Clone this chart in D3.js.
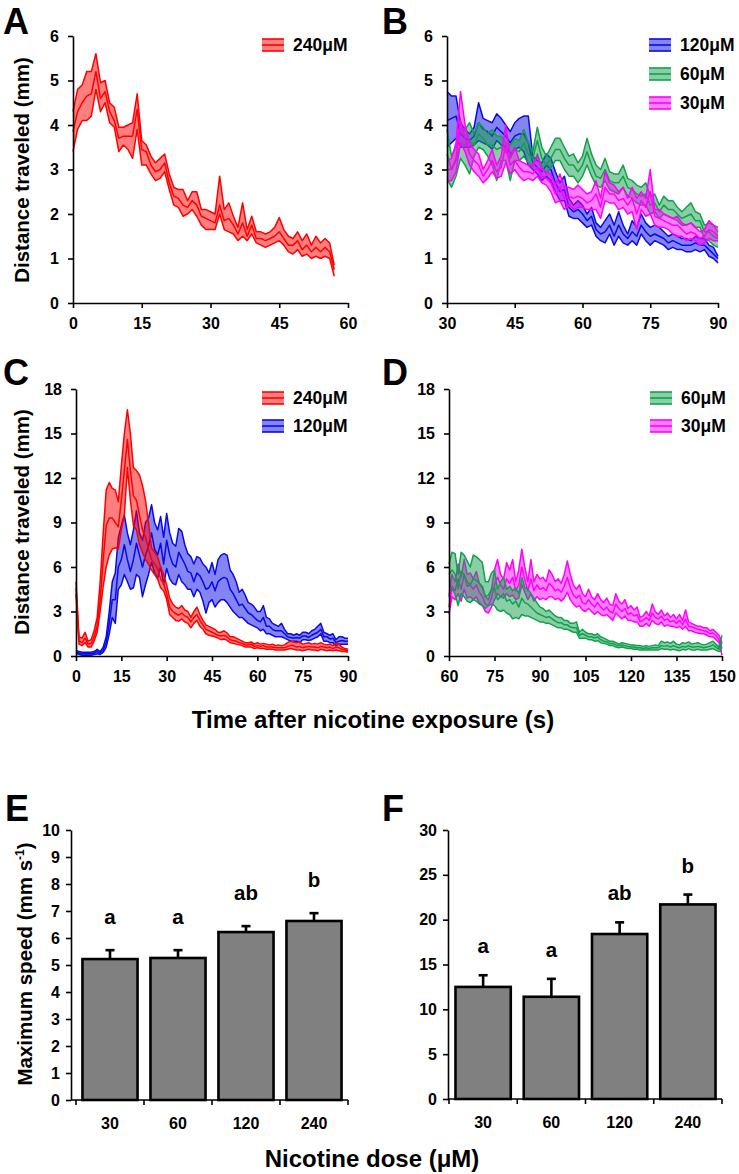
<!DOCTYPE html>
<html><head><meta charset="utf-8">
<script src="https://cdn.jsdelivr.net/npm/d3@7"></script>
<style>body{margin:0;background:#fff}svg{display:block}</style>
</head><body>
<script>
// ---------------- DATA ----------------
// Panel A: 240 µM, t = 0..57 s (1 s steps)
const aStart = 0;
const a240Hi   = [4.3,4.8,4.9,5.2,5.2,5.6,4.95,5.0,4.5,4.4,3.95,3.95,4.0,4.05,4.7,3.65,3.55,3.3,3.15,3.25,3.35,2.9,2.6,2.55,2.55,2.3,2.5,2.5,2.1,2.1,2.05,2.0,2.85,2.1,2.25,1.95,1.7,2.25,1.65,1.95,1.6,1.6,1.55,1.6,1.7,1.92,1.65,1.5,1.45,1.6,1.4,1.55,1.3,1.5,1.35,1.45,1.35,0.85];
const a240Mean = [3.85,4.3,4.5,4.65,4.7,5.2,4.6,4.75,4.3,4.1,3.7,3.75,3.75,3.75,4.35,3.45,3.4,3.1,2.95,3.0,3.15,2.7,2.4,2.35,2.2,2.15,2.3,2.2,1.95,1.9,1.85,1.8,2.2,1.85,1.9,1.75,1.55,1.8,1.5,1.75,1.45,1.45,1.4,1.45,1.5,1.6,1.45,1.3,1.3,1.4,1.2,1.3,1.15,1.25,1.15,1.25,1.15,0.75];
const a240Lo   = [3.4,3.9,4.1,4.1,4.2,4.8,4.3,4.5,4.05,3.95,3.4,3.55,3.45,3.25,3.9,3.1,3.1,2.9,2.75,2.8,2.95,2.55,2.2,2.15,1.95,2.0,2.1,1.95,1.75,1.65,1.65,1.65,2.0,1.65,1.6,1.55,1.4,1.5,1.4,1.55,1.35,1.3,1.25,1.3,1.35,1.4,1.3,1.15,1.1,1.2,1.05,1.1,1.0,1.05,1.0,1.05,1.0,0.6];

// Panel B: t = 30..90 s
const bStart = 30;
const b120Hi   = [4.75,4.65,4.65,4.05,3.9,3.8,3.95,4.5,4.15,4.1, 4.05,4.25,4.15,4.0,3.85,4.05,4.15,4.2,4.2,3.3, 3.2,3.15,3.35,3.25,2.95,2.7,2.85,2.35,2.2,2.3, 2.2,2.0,2.15,1.8,1.7,1.85,2.0,1.75,2.05,1.75, 1.55,1.85,1.7,2.0,1.8,1.7,1.75,1.7,1.6,1.5, 1.55,1.5,1.45,1.45,1.4,1.5,1.45,1.45,1.3,1.25,1.05];
const b120Mean = [4.1,4.15,4.2,3.8,3.7,3.65,3.75,4.05,3.9,3.85, 3.75,3.95,3.85,3.75,3.6,3.75,3.8,3.8,3.6,3.15, 3.05,2.95,3.1,3.0,2.7,2.5,2.55,2.15,2.05,2.1, 2.0,1.85,1.95,1.65,1.55,1.6,1.75,1.5,1.75,1.55, 1.45,1.6,1.5,1.75,1.6,1.5,1.55,1.5,1.45,1.35, 1.4,1.35,1.3,1.3,1.3,1.35,1.3,1.3,1.2,1.1,1.0];
const b120Lo   = [3.5,3.6,3.7,3.5,3.5,3.5,3.55,3.65,3.6,3.55, 3.45,3.65,3.55,3.5,3.35,3.45,3.5,3.4,3.1,3.0, 2.9,2.75,2.85,2.75,2.5,2.3,2.3,1.95,1.9,1.9, 1.8,1.7,1.75,1.5,1.4,1.35,1.55,1.3,1.5,1.35, 1.3,1.4,1.3,1.55,1.4,1.3,1.4,1.35,1.3,1.2, 1.25,1.2,1.2,1.15,1.15,1.2,1.15,1.2,1.05,1.0,0.9];
const b60Hi    = [3.9,3.3,3.5,3.95,3.9,4.05,3.8,4.05,3.95,3.8, 3.9,3.75,3.75,3.6,3.55,3.7,3.65,3.9,3.6,3.4, 3.95,3.5,3.3,3.5,3.7,3.7,3.5,3.3,3.35,3.15, 3.3,3.7,3.35,3.1,3.0,3.25,2.95,2.9,2.9,3.1, 2.8,2.75,2.65,2.6,2.7,2.4,2.45,2.2,2.4,2.3, 2.3,2.15,2.05,2.15,2.25,2.05,2.0,1.75,1.8,1.75,1.6];
const b60Mean  = [3.35,3.0,3.2,3.6,3.55,3.65,3.55,3.8,3.7,3.55, 3.55,3.45,3.5,3.4,3.25,3.45,3.4,3.6,3.35,3.25, 3.65,3.25,3.1,3.25,3.45,3.45,3.25,3.1,3.1,2.95, 3.1,3.4,3.1,2.85,2.8,3.0,2.75,2.7,2.7,2.85, 2.6,2.55,2.45,2.4,2.45,2.2,2.25,2.05,2.2,2.1, 2.1,2.0,1.9,1.95,2.0,1.85,1.85,1.6,1.6,1.5,1.45];
const b60Lo    = [2.8,2.6,2.85,3.25,3.1,2.9,3.3,3.5,3.45,3.3, 3.1,2.75,3.2,3.2,2.75,3.2,3.2,3.3,3.15,3.05, 3.35,3.05,2.9,3.05,3.2,3.2,3.0,2.85,2.85,2.7, 2.85,3.1,2.85,2.65,2.6,2.75,2.55,2.5,2.45,2.6, 2.4,2.35,2.25,2.2,2.2,2.0,2.05,1.9,2.0,1.95, 1.9,1.85,1.75,1.75,1.8,1.7,1.7,1.45,1.4,1.3,1.25];
const b30Hi    = [3.2,3.25,3.6,4.75,4.0,3.6,3.45,3.35,3.0,3.2, 3.45,3.1,3.3,4.0,3.3,3.5,3.2,3.15,3.1,3.1, 3.3,3.0,2.95,2.9,2.65,2.9,2.6,2.6,2.55,2.65, 2.55,2.45,2.5,2.75,2.35,2.95,2.7,2.65,2.5,2.6, 2.35,2.6,2.35,2.5,2.35,3.0,2.1,2.1,2.0,1.95, 1.9,1.95,1.8,1.75,1.8,1.7,1.6,1.65,1.85,1.75,1.7];
const b30Mean  = [3.0,3.0,3.25,4.1,3.7,3.35,3.2,3.1,2.85,3.0, 3.2,2.95,3.05,3.55,3.1,3.2,3.05,2.95,2.95,2.9, 3.05,2.85,2.8,2.7,2.45,2.6,2.35,2.4,2.35,2.4, 2.35,2.25,2.3,2.45,2.15,2.6,2.45,2.45,2.3,2.35, 2.2,2.35,2.0,2.3,2.15,2.5,1.95,1.9,1.85,1.8, 1.75,1.75,1.65,1.55,1.6,1.55,1.45,1.5,1.65,1.6,1.5];
const b30Lo    = [2.75,2.75,2.95,3.6,3.4,3.1,2.95,2.85,2.7,2.8, 2.95,2.8,2.85,3.15,2.9,3.0,2.85,2.75,2.8,2.75, 2.85,2.7,2.65,2.5,2.25,2.3,2.1,2.2,2.1,2.15, 2.15,2.1,2.1,2.1,1.9,2.3,2.25,2.25,2.1,2.15, 2.0,2.05,1.65,2.1,1.95,2.0,1.75,1.7,1.7,1.65, 1.55,1.5,1.5,1.4,1.45,1.4,1.3,1.35,1.45,1.4,1.4];

// Panel C: t = 0..90 s
const cStart = 0;
const c240Hi   = [5.0,1.3,1.2,1.6,1.0,1.1,1.7,2.6,5.0,8.3, 11.2,11.7,11.3,11.2,10.4,12.8,15.0,16.6,15.0,12.7, 12.5,12.2,11.5,10.5,9.0,7.3,7.0,6.7,6.0,5.5, 4.8,3.9,3.5,3.3,3.2,3.4,3.1,3.0,2.6,3.0, 3.3,2.8,2.4,2.1,2.0,1.9,1.8,1.6,1.6,1.7, 1.55,1.3,1.3,1.2,1.1,1.0,0.9,0.9,0.95,0.8, 0.9,0.8,0.85,0.8,0.75,0.8,0.7,0.75,0.7,0.75, 0.9,1.0,0.95,0.9,0.95,0.8,0.85,0.9,0.8,0.85, 0.8,0.9,0.8,0.75,0.8,0.7,0.85,0.8,0.6,0.5, 0.45];
const c240Mean = [4.6,1.0,0.9,1.2,0.8,0.85,1.3,2.0,3.8,6.5, 8.8,9.3,9.3,9.0,8.7,10.5,12.5,14.6,12.5,10.8, 10.5,9.5,8.5,8.0,7.2,6.5,6.2,5.9,5.2,4.9, 4.2,3.3,3.0,2.85,2.75,2.9,2.7,2.6,2.3,2.6, 2.8,2.4,2.1,1.8,1.7,1.6,1.5,1.4,1.35,1.4, 1.3,1.1,1.05,1.0,0.9,0.85,0.75,0.75,0.8,0.65, 0.7,0.65,0.7,0.6,0.6,0.6,0.55,0.55,0.55,0.55, 0.65,0.7,0.7,0.6,0.65,0.55,0.6,0.65,0.6,0.6, 0.55,0.65,0.6,0.55,0.6,0.5,0.6,0.55,0.45,0.4, 0.35];
const c240Lo   = [4.2,0.8,0.7,0.9,0.6,0.6,1.0,1.6,3.0,4.7, 6.0,6.8,7.2,7.3,7.2,8.5,9.5,12.7,10.5,8.8, 8.5,7.5,7.0,6.5,6.2,5.8,5.5,5.2,4.6,4.4, 3.8,2.8,2.6,2.4,2.35,2.5,2.3,2.2,1.9,2.2, 2.4,2.0,1.8,1.5,1.4,1.35,1.3,1.2,1.1,1.15, 1.05,0.9,0.85,0.8,0.75,0.7,0.6,0.6,0.6,0.5, 0.55,0.5,0.5,0.45,0.45,0.45,0.4,0.4,0.4,0.4, 0.45,0.5,0.45,0.4,0.4,0.35,0.4,0.45,0.4,0.4, 0.35,0.45,0.4,0.35,0.4,0.35,0.4,0.35,0.3,0.3, 0.25];
const c120Hi   = [0.4,0.3,0.25,0.25,0.25,0.25,0.3,0.45,0.3,0.6, 1.3,3.0,5.0,5.6,8.0,8.8,9.5,8.3,7.5,8.5, 9.8,8.3,7.8,9.0,9.3,10.2,9.0,8.5,9.4,8.0, 9.6,8.3,7.6,7.4,8.6,8.4,7.5,6.9,6.7,6.2, 6.7,6.6,6.2,6.0,5.6,6.3,5.5,6.5,6.8,6.9, 6.8,5.8,5.5,5.0,4.3,4.5,4.1,3.6,3.5,3.3, 3.0,3.0,3.4,2.6,2.5,2.2,2.1,2.0,2.2,1.8, 1.5,1.5,1.4,1.5,1.4,1.6,1.6,1.5,1.7,1.8, 2.0,2.2,1.6,1.5,1.4,1.5,1.1,1.3,1.3,1.2, 1.2];
const c120Mean = [0.3,0.2,0.15,0.15,0.15,0.15,0.2,0.3,0.2,0.4, 0.9,2.2,3.8,3.8,6.0,6.5,7.5,6.5,5.7,6.5, 7.6,6.8,6.0,6.8,7.4,8.3,7.2,6.8,7.6,6.2, 7.8,6.8,6.2,6.0,7.0,6.6,6.2,5.7,5.6,5.0, 5.6,5.4,5.0,4.5,4.6,5.0,4.4,5.0,5.2,5.3, 5.2,4.5,4.2,3.8,3.4,3.5,3.2,2.9,2.8,2.6, 2.4,2.3,2.6,2.0,2.0,1.8,1.7,1.7,1.7,1.5, 1.3,1.25,1.2,1.25,1.2,1.35,1.35,1.25,1.4,1.5, 1.6,1.8,1.3,1.3,1.15,1.2,0.9,1.0,1.05,1.0, 1.0];
const c120Lo   = [0.2,0.1,0.05,0.05,0.05,0.05,0.1,0.15,0.1,0.25, 0.6,1.5,2.6,2.2,4.5,4.8,5.5,5.0,4.5,4.6, 5.5,5.3,4.0,4.8,5.5,6.3,5.6,5.2,6.0,4.8, 5.9,5.2,4.9,4.8,5.5,5.0,4.8,4.5,4.5,4.0, 4.5,4.3,3.7,2.9,3.6,3.8,3.3,3.6,3.8,3.8, 3.6,3.3,3.0,2.8,2.6,2.6,2.4,2.2,2.1,2.0, 1.9,1.7,1.8,1.5,1.5,1.4,1.3,1.3,1.3,1.2, 1.1,1.0,1.0,1.0,0.9,1.1,1.1,1.05,1.1,1.2, 1.3,1.5,1.0,1.0,0.9,0.9,0.7,0.8,0.8,0.8, 0.8];

// Panel D: t = 60..150 s
const dStart = 60;
const d60Hi    = [6.2,7.0,6.9,5.5,7.0,6.8,6.4,6.0,6.8,6.7, 6.5,6.3,5.0,5.0,5.6,5.8,4.5,5.0,5.3,4.5, 4.7,4.4,4.6,4.2,5.3,4.6,4.5,4.2,3.9,3.6, 3.3,3.2,3.0,3.1,2.9,2.7,2.6,2.6,2.4,2.4, 2.2,2.2,2.3,1.6,1.8,1.6,1.5,1.5,1.4,1.5, 1.3,1.2,1.1,1.0,1.0,0.9,0.8,0.9,0.85,0.8, 0.75,0.75,0.7,0.7,0.65,0.7,0.65,0.7,0.75,0.7, 1.0,0.9,0.95,0.85,1.0,0.8,0.75,0.9,0.85,0.95, 0.8,0.85,0.9,0.8,0.75,0.8,0.9,1.0,0.8,0.6, 1.4];
const d60Mean  = [5.5,5.8,5.5,4.5,5.7,5.5,5.0,4.8,5.2,5.1, 4.9,4.7,4.0,4.1,4.5,4.6,3.8,4.0,4.2,3.7, 3.8,3.5,3.7,3.3,3.9,3.6,3.5,3.3,3.1,2.9, 2.8,2.7,2.6,2.65,2.5,2.35,2.25,2.25,2.1,2.1, 1.95,1.9,1.9,1.4,1.5,1.4,1.3,1.3,1.2,1.3, 1.1,1.0,0.95,0.85,0.85,0.75,0.7,0.75,0.7,0.65, 0.6,0.6,0.55,0.55,0.5,0.55,0.5,0.55,0.55,0.55, 0.7,0.65,0.7,0.6,0.7,0.6,0.55,0.65,0.6,0.7, 0.6,0.6,0.65,0.6,0.55,0.6,0.65,0.75,0.6,0.45, 0.9];
const d60Lo    = [4.5,4.5,4.2,3.4,4.2,4.0,3.7,3.6,3.8,3.7, 3.5,3.4,3.2,3.4,3.5,3.4,3.1,3.0,3.1,2.9, 2.8,2.5,2.6,2.5,2.8,2.7,2.7,2.6,2.5,2.4, 2.3,2.3,2.2,2.2,2.1,2.0,1.9,1.9,1.8,1.8, 1.7,1.6,1.6,1.2,1.2,1.2,1.1,1.1,1.0,1.05, 0.9,0.85,0.8,0.7,0.7,0.6,0.55,0.6,0.55,0.5, 0.5,0.45,0.45,0.4,0.4,0.4,0.4,0.4,0.4,0.4, 0.5,0.45,0.45,0.4,0.45,0.4,0.35,0.45,0.4,0.5, 0.4,0.4,0.45,0.4,0.4,0.4,0.45,0.5,0.4,0.3, 0.4];
const d30Hi    = [4.0,5.5,5.0,6.2,5.3,6.5,5.5,5.6,5.2,5.7, 4.9,4.6,4.0,3.8,4.5,5.8,6.5,5.5,5.2,6.3, 5.8,6.5,5.0,5.8,7.2,6.0,5.0,6.5,5.0,5.5, 5.2,5.3,5.0,5.8,5.5,5.0,5.2,4.9,5.5,6.4, 5.5,4.8,4.5,4.8,4.2,4.0,4.5,4.0,3.8,4.2, 3.8,3.6,3.9,3.5,3.4,4.2,3.7,3.5,3.8,3.2, 3.4,3.1,3.3,2.6,2.7,3.0,2.7,3.5,3.0,2.8, 3.1,2.7,2.9,2.6,2.8,2.5,2.8,2.4,3.1,2.3, 2.2,2.1,2.0,2.0,1.9,1.9,1.7,1.8,1.6,1.4, 0.9];
const d30Mean  = [3.3,4.7,4.4,5.2,4.5,5.5,4.7,4.8,4.5,4.8, 4.3,4.0,3.5,3.4,3.9,4.8,5.3,4.8,4.5,5.2, 4.9,5.3,4.4,4.8,6.0,5.1,4.4,5.2,4.4,4.8, 4.5,4.6,4.4,4.9,4.7,4.4,4.5,4.3,4.7,5.3, 4.6,4.1,3.9,4.1,3.6,3.5,3.8,3.5,3.3,3.6, 3.3,3.1,3.3,3.0,2.9,3.5,3.2,3.0,3.2,2.8, 2.9,2.7,2.8,2.3,2.4,2.6,2.4,2.9,2.6,2.5, 2.7,2.4,2.5,2.3,2.4,2.2,2.4,2.1,2.5,2.0, 1.95,1.9,1.8,1.75,1.7,1.65,1.5,1.55,1.4,1.1, 0.5];
const d30Lo    = [2.8,4.0,3.8,4.2,3.7,4.5,3.9,4.0,3.8,4.0, 3.6,3.4,3.0,2.9,3.3,3.8,4.2,4.0,3.9,4.2, 4.0,4.1,3.8,3.9,4.8,4.3,3.8,4.2,3.7,4.0, 3.8,3.9,3.8,4.0,4.0,3.8,3.9,3.7,3.9,4.3, 3.8,3.5,3.3,3.4,3.1,3.0,3.2,3.0,2.8,3.0, 2.8,2.7,2.8,2.6,2.4,2.9,2.7,2.5,2.7,2.4, 2.4,2.3,2.3,2.0,2.0,2.2,2.0,2.4,2.2,2.1, 2.3,2.0,2.1,2.0,2.0,1.9,2.0,1.8,2.0,1.7, 1.7,1.6,1.55,1.5,1.5,1.4,1.3,1.3,1.1,0.9, 0.05];

// Bar panels E and F
const doses = ["30","60","120","240"];
const eMeans = [5.22,5.26,6.22,6.63];
const eErr   = [0.33,0.29,0.22,0.29];
const eLetters = ["a","a","ab","b"];
const fMeans = [12.5,11.4,18.4,21.7];
const fErr   = [1.3,2.0,1.3,1.1];
const fLetters = ["a","a","ab","b"];

// tick labels
const ticksA_x = [0,15,30,45,60];
const ticksB_x = [30,45,60,75,90];
const ticksC_x = [0,15,30,45,60,75,90];
const ticksD_x = [60,75,90,105,120,135,150];
const ticksAB_y = [0,1,2,3,4,5,6];
const ticksCD_y = [0,3,6,9,12,15,18];
const ticksE_y = [0,1,2,3,4,5,6,7,8,9,10];
const ticksF_y = [0,5,10,15,20,25,30];

// ---------------- DRAWING ----------------
const FONT = "Arial, 'Liberation Sans', Helvetica, sans-serif";
const COL = {r:"#ff0000", b:"#0a0ae6", g:"#12a04c", m:"#ff00ff"};
const W = 739, H = 1174;
const svg = d3.select("body").append("svg").attr("width", W).attr("height", H)
  .style("font-family", FONT);
svg.append("rect").attr("width", W).attr("height", H).attr("fill", "#fff");

function styleAxis(g){
  g.selectAll(".domain").attr("stroke","#000").attr("stroke-width",1.6);
  g.selectAll(".tick line").attr("stroke","#000").attr("stroke-width",1.6);
  g.selectAll(".tick text").attr("fill","#000").style("font-size","16px")
    .style("font-weight","bold").style("font-family",FONT);
}

function linePanel(p){
  const x = d3.scaleLinear().domain(p.xDomain).range([p.x0, p.x1]);
  const y = d3.scaleLinear().domain(p.yDomain).range([p.yBot, p.yTop]);
  const g = svg.append("g");
  p.series.forEach(s => {
    const idx = d3.range(s.mean.length);
    const tx = i => x(s.start + i);
    g.append("path").datum(idx)
      .attr("d", d3.area().x(tx).y0(i => y(s.lo[i])).y1(i => y(s.hi[i])))
      .attr("fill", s.color).attr("fill-opacity", 0.5).attr("stroke","none");
    [s.hi, s.mean, s.lo].forEach(arr => {
      g.append("path").datum(idx)
        .attr("d", d3.line().x(tx).y(i => y(arr[i])))
        .attr("fill","none").attr("stroke", s.color).attr("stroke-width",1.5)
        .attr("stroke-linejoin","round");
    });
  });
  const gx = svg.append("g").attr("transform",`translate(0,${p.yBot})`)
    .call(d3.axisBottom(x).tickValues(p.xTicks).tickSize(5).tickSizeOuter(0).tickPadding(10).tickFormat(d3.format("d")));
  styleAxis(gx);
  const gy = svg.append("g").attr("transform",`translate(${p.x0},0)`)
    .call(d3.axisLeft(y).tickValues(p.yTicks).tickSize(5).tickSizeOuter(0).tickPadding(9).tickFormat(d3.format("d")));
  styleAxis(gy);
  // legend
  p.legend.forEach((L, k) => {
    const cy = p.legY + k * p.legStep;
    const lg = svg.append("g");
    lg.append("rect").attr("x", p.legX).attr("y", cy - 6).attr("width", 22).attr("height", 12)
      .attr("fill", L.color).attr("fill-opacity", 0.5);
    [-6, 0, 6].forEach(dy => lg.append("line")
      .attr("x1", p.legX).attr("x2", p.legX + 22).attr("y1", cy + dy).attr("y2", cy + dy)
      .attr("stroke", L.color).attr("stroke-width", 1.6));
    lg.append("text").attr("x", p.legX + 31).attr("y", cy).attr("dy","0.36em")
      .style("font-size","17.5px").style("font-weight","bold").text(L.label);
  });
}

function panelLetter(t, x, y){
  svg.append("text").attr("x", x).attr("y", y).text(t)
    .style("font-size","36px").style("font-weight","bold");
}
function yTitle(t, x, y){
  svg.append("text").attr("transform",`translate(${x},${y}) rotate(-90)`)
    .attr("text-anchor","middle").style("font-size","20.5px").style("font-weight","bold").text(t);
}

// Panel A
linePanel({x0:73, x1:348, yTop:36, yBot:303, xDomain:[0,60], yDomain:[0,6],
  xTicks:ticksA_x, yTicks:ticksAB_y,
  series:[{start:aStart, hi:a240Hi, mean:a240Mean, lo:a240Lo, color:COL.r}],
  legend:[{label:"240μM", color:COL.r}], legX:262, legY:45, legStep:28.5});
// Panel B
linePanel({x0:447, x1:718, yTop:36, yBot:303, xDomain:[30,90], yDomain:[0,6],
  xTicks:ticksB_x, yTicks:ticksAB_y,
  series:[{start:bStart, hi:b120Hi, mean:b120Mean, lo:b120Lo, color:COL.b},
          {start:bStart, hi:b60Hi, mean:b60Mean, lo:b60Lo, color:COL.g},
          {start:bStart, hi:b30Hi, mean:b30Mean, lo:b30Lo, color:COL.m}],
  legend:[{label:"120μM", color:COL.b},{label:"60μM", color:COL.g},{label:"30μM", color:COL.m}],
  legX:649, legY:45, legStep:29});
// Panel C
linePanel({x0:76, x1:348, yTop:389, yBot:656, xDomain:[0,90], yDomain:[0,18],
  xTicks:ticksC_x, yTicks:ticksCD_y,
  series:[{start:cStart, hi:c120Hi, mean:c120Mean, lo:c120Lo, color:COL.b},
          {start:cStart, hi:c240Hi, mean:c240Mean, lo:c240Lo, color:COL.r}],
  legend:[{label:"240μM", color:COL.r},{label:"120μM", color:COL.b}],
  legX:262, legY:398, legStep:28});
// Panel D
linePanel({x0:449, x1:722, yTop:389, yBot:656, xDomain:[60,150], yDomain:[0,18],
  xTicks:ticksD_x, yTicks:ticksCD_y,
  series:[{start:dStart, hi:d30Hi, mean:d30Mean, lo:d30Lo, color:COL.m},
          {start:dStart, hi:d60Hi, mean:d60Mean, lo:d60Lo, color:COL.g}],
  legend:[{label:"60μM", color:COL.g},{label:"30μM", color:COL.m}],
  legX:650, legY:398, legStep:28});

// Bar panels
function barPanel(p){
  const x = d3.scaleBand().domain(doses).range([p.bx0, p.bx1]).paddingInner(0.19).paddingOuter(0.095);
  const y = d3.scaleLinear().domain(p.yDomain).range([p.yBot, p.yTop]);
  const g = svg.append("g");
  // error bars (upper only)
  doses.forEach((d, i) => {
    const cx = x(d) + x.bandwidth()/2;
    const top = y(p.means[i] + p.err[i]);
    g.append("line").attr("x1",cx).attr("x2",cx).attr("y1",y(p.means[i])).attr("y2",top)
      .attr("stroke","#000").attr("stroke-width",2.6);
    g.append("line").attr("x1",cx-4.5).attr("x2",cx+4.5).attr("y1",top).attr("y2",top)
      .attr("stroke","#000").attr("stroke-width",2.6);
    g.append("text").attr("x",cx).attr("y",top - p.letterGap).attr("text-anchor","middle")
      .style("font-size","20.5px").style("font-weight","bold").text(p.letters[i]);
  });
  g.selectAll("rect.bar").data(doses).join("rect").attr("class","bar")
    .attr("x", d => x(d)).attr("width", x.bandwidth())
    .attr("y", (d,i) => y(p.means[i])).attr("height", (d,i) => p.yBot - y(p.means[i]))
    .attr("fill","#808080").attr("stroke","#000").attr("stroke-width",2.6);
  // y axis
  const gy = svg.append("g").attr("transform",`translate(${p.ax},0)`)
    .call(d3.axisLeft(y).tickValues(p.yTicks).tickSize(5).tickSizeOuter(0).tickPadding(6).tickFormat(d3.format("d")));
  styleAxis(gy);
  // x axis line from y axis to the end, ticks at category boundaries
  const gx = svg.append("g");
  gx.append("line").attr("x1",p.ax).attr("x2",p.bx1).attr("y1",p.yBot).attr("y2",p.yBot)
    .attr("stroke","#000").attr("stroke-width",1.6);
  const bounds = doses.map(d => x(d) - x.step()*0.095).concat([p.bx1]);
  bounds.forEach(b => gx.append("line").attr("x1",b).attr("x2",b).attr("y1",p.yBot).attr("y2",p.yBot+5)
    .attr("stroke","#000").attr("stroke-width",1.6));
  doses.forEach(d => gx.append("text").attr("x", x(d)+x.bandwidth()/2).attr("y", p.yBot + 29)
    .attr("text-anchor","middle").style("font-size","16px").style("font-weight","bold").text(d));
}
barPanel({ax:71, bx0:76, bx1:348, yTop:830, yBot:1100, yDomain:[0,10], yTicks:ticksE_y,
  means:eMeans, err:eErr, letters:eLetters, letterGap:26});
barPanel({ax:448, bx0:449, bx1:722, yTop:830, yBot:1099, yDomain:[0,30], yTicks:ticksF_y,
  means:fMeans, err:fErr, letters:fLetters, letterGap:22});

// Titles
panelLetter("A", 3, 34);
panelLetter("B", 382, 34);
panelLetter("C", 3, 385);
panelLetter("D", 382, 385);
panelLetter("E", 5, 821);
panelLetter("F", 382, 821);
yTitle("Distance traveled (mm)", 28.5, 170);
yTitle("Distance traveled (mm)", 28.5, 522);
const mt = svg.append("text").attr("transform","translate(31.5,964) rotate(-90)")
  .attr("text-anchor","middle").style("font-size","20.5px").style("font-weight","bold");
mt.append("tspan").text("Maximum speed (mm s");
mt.append("tspan").attr("dy","-8").style("font-size","12px").text("-1");
mt.append("tspan").attr("dy","8").text(")");
svg.append("text").attr("x",373).attr("y",728).attr("text-anchor","middle")
  .style("font-size","24px").style("font-weight","bold").text("Time after nicotine exposure (s)");
svg.append("text").attr("x",372).attr("y",1167).attr("text-anchor","middle")
  .style("font-size","24px").style("font-weight","bold").text("Nicotine dose (μM)");
</script>
</body></html>
